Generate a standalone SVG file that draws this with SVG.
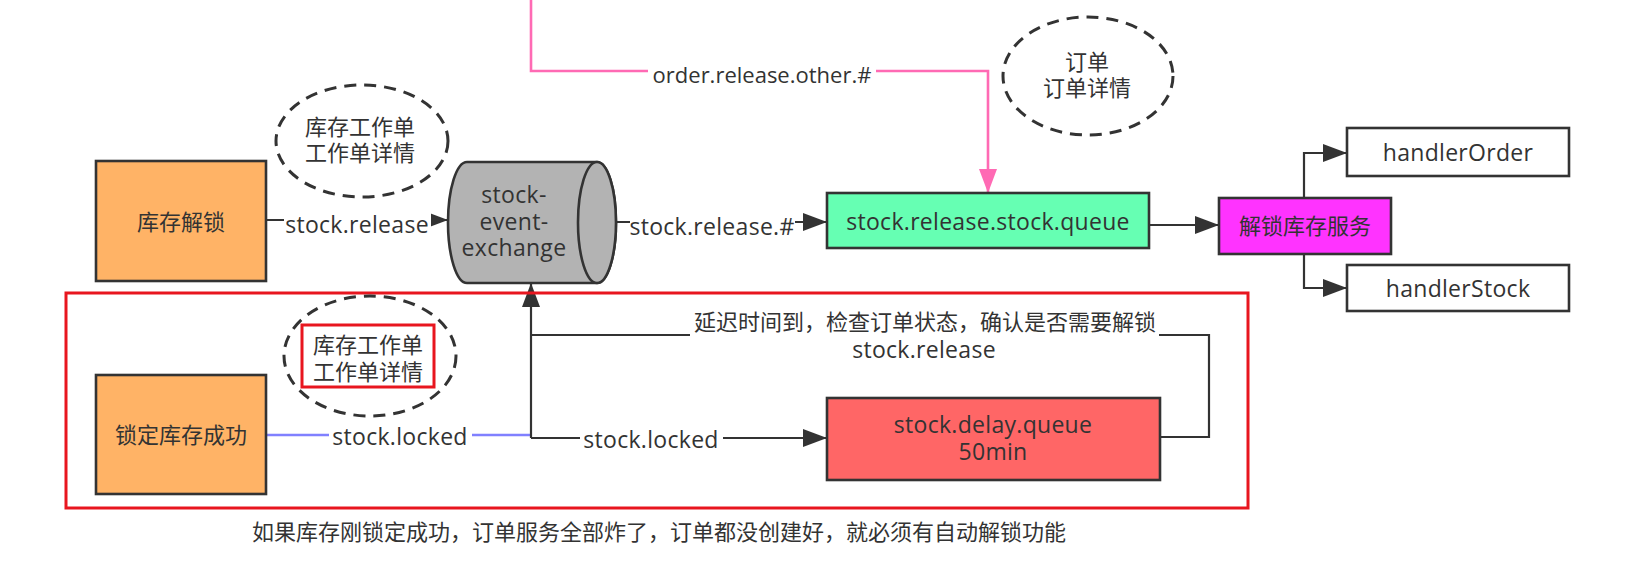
<svg xmlns="http://www.w3.org/2000/svg" width="1642" height="573" viewBox="0 0 1642 573">
<defs>
<style>
.t{font-family:"Open Sans","Noto Sans CJK SC",sans-serif;font-size:22px;fill:#333;text-anchor:middle}
.e{font-family:"Open Sans","Noto Sans CJK SC",sans-serif;font-size:23px;letter-spacing:0.3px;fill:#333;text-anchor:middle}
.tl{font-family:"Open Sans","Noto Sans CJK SC",sans-serif;font-size:22px;fill:#333}
.box{stroke:#333;stroke-width:2.6}
.dash{fill:none;stroke:#333;stroke-width:3;stroke-dasharray:12 8}
.ln{fill:none;stroke:#333;stroke-width:2.2}
.bg{fill:#fff}
.red{fill:none;stroke:#e8161f;stroke-width:3}
</style>
<marker id="ah" markerUnits="userSpaceOnUse" markerWidth="24" markerHeight="18" refX="24" refY="9" orient="auto">
<path d="M0,0 L24,9 L0,18 Z" fill="#333"/>
</marker>
<marker id="ahp" markerUnits="userSpaceOnUse" markerWidth="24" markerHeight="18" refX="24" refY="9" orient="auto">
<path d="M0,0 L24,9 L0,18 Z" fill="#ff6ab4"/>
</marker>
</defs>
<rect width="1642" height="573" fill="#fff"/>

<g id="connectors">
<path d="M531,0 V71 H988 V193" fill="none" stroke="#ff6ab4" stroke-width="2.6" marker-end="url(#ahp)"/>
<path class="ln" d="M266,220 H448" marker-end="url(#ah)"/>
<path class="ln" d="M616,222 H827" marker-end="url(#ah)"/>
<path class="ln" d="M1149,225 H1219" marker-end="url(#ah)"/>
<path class="ln" d="M1304,198 V153 H1347" marker-end="url(#ah)"/>
<path class="ln" d="M1304,254 V288 H1347" marker-end="url(#ah)"/>
<path d="M267,435 H531" fill="none" stroke="#8080ff" stroke-width="2.6"/>
<path class="ln" d="M531,438 V283" marker-end="url(#ah)"/>
<path class="ln" d="M531,438 H827" marker-end="url(#ah)"/>
<path class="ln" d="M1160,437 H1209 V335 H531"/>

<rect class="bg" x="648" y="61" width="228" height="26"/>
<text class="t" x="762" y="83">order.release.other.#</text>
<rect class="bg" x="284" y="210" width="147" height="28"/>
<text class="e" x="357" y="233">stock.release</text>
<rect class="bg" x="630" y="211" width="165" height="28"/>
<text class="e" x="712" y="235">stock.release.#</text>
<rect class="bg" x="329" y="424" width="143" height="26"/>
<text class="e" x="400" y="445">stock.locked</text>
<rect class="bg" x="580" y="427" width="143" height="26"/>
<text class="e" x="651" y="448">stock.locked</text>
<rect class="bg" x="690" y="312" width="469" height="50"/>
<text class="t" x="925" y="330">延迟时间到，检查订单状态，确认是否需要解锁</text>
<text class="e" x="924" y="358">stock.release</text>
</g>

<g id="note-order">
<ellipse class="dash" cx="1088" cy="76" rx="85" ry="59"/>
<text class="t" x="1087" y="70">订单</text>
<text class="t" x="1087" y="96">订单详情</text>
</g>

<g id="note-stock-top">
<ellipse class="dash" cx="362" cy="141" rx="86" ry="56"/>
<text class="t" x="360" y="135">库存工作单</text>
<text class="t" x="360" y="161">工作单详情</text>
</g>

<g id="stock-unlock">
<rect class="box" x="96" y="161" width="170" height="120" fill="#ffb366"/>
<text class="t" x="181" y="230">库存解锁</text>
</g>

<g id="exchange">
<path class="box" d="M467,162 L597,162 A19,60.5 0 0 1 597,283 L467,283 A19,60.5 0 0 1 467,162 Z" fill="#b3b3b3"/>
<ellipse class="box" cx="597" cy="222.5" rx="19" ry="60.5" fill="#b3b3b3"/>
<text class="e" x="514" y="203">stock-</text>
<text class="e" x="514" y="230">event-</text>
<text class="e" x="514" y="256">exchange</text>
</g>

<g id="release-queue">
<rect class="box" x="827" y="193" width="322" height="55" fill="#66ffb3"/>
<text class="e" x="988" y="230">stock.release.stock.queue</text>
</g>

<g id="unlock-service">
<rect class="box" x="1219" y="198" width="172" height="56" fill="#ff33ff"/>
<text class="t" x="1305" y="234">解锁库存服务</text>
</g>

<g id="handler-order">
<rect class="box" x="1347" y="128" width="222" height="48" fill="#fff"/>
<text class="e" x="1458" y="161">handlerOrder</text>
</g>

<g id="handler-stock">
<rect class="box" x="1347" y="265" width="222" height="46" fill="#fff"/>
<text class="e" x="1458" y="297">handlerStock</text>
</g>

<g id="auto-unlock-frame">
<rect class="red" x="66" y="293" width="1182" height="215"/>
</g>

<g id="note-stock-bottom">
<ellipse class="dash" cx="370" cy="356" rx="86" ry="60"/>
<rect class="red" x="302" y="325" width="132" height="62"/>
<text class="t" x="368" y="353">库存工作单</text>
<text class="t" x="368" y="380">工作单详情</text>
</g>

<g id="lock-success">
<rect class="box" x="96" y="375" width="170" height="119" fill="#ffb366"/>
<text class="t" x="181" y="443">锁定库存成功</text>
</g>

<g id="delay-queue">
<rect class="box" x="827" y="398" width="333" height="82" fill="#ff6666"/>
<text class="e" x="993" y="433">stock.delay.queue</text>
<text class="e" x="993" y="460">50min</text>
</g>

<g id="caption">
<text class="tl" x="252" y="540">如果库存刚锁定成功，订单服务全部炸了，订单都没创建好，就必须有自动解锁功能</text>
</g>
</svg>
